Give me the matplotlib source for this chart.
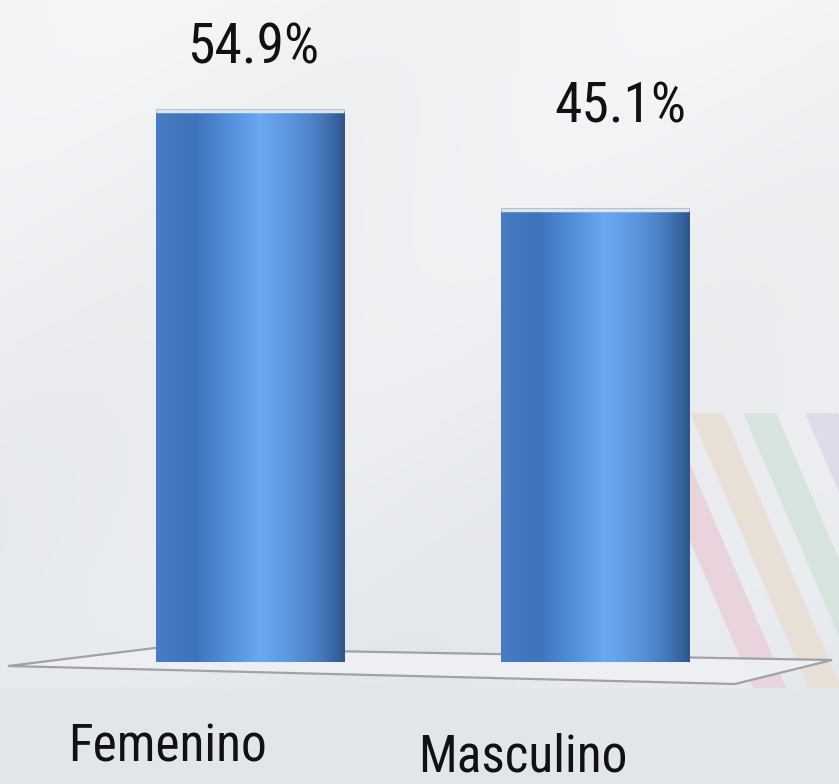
import numpy as np
import matplotlib
matplotlib.use("Agg")
import matplotlib.pyplot as plt
from matplotlib.colors import LinearSegmentedColormap
from matplotlib.patches import Polygon, Rectangle
import logging
logging.getLogger("matplotlib.font_manager").setLevel(logging.ERROR)

# ---- data ----
categories = ["Femenino", "Masculino"]
values = [54.9, 45.1]
value_labels = ["54.9%", "45.1%"]

# ---- layout / style (pixel geometry of the reference) ----
W, H = 839, 784
FONT = ["Liberation Sans Narrow", "Arial Narrow", "Roboto Condensed",
        "Open Sans Condensed", "Liberation Sans", "DejaVu Sans"]

fig = plt.figure(figsize=(W / 100, H / 100), dpi=100)

# background
bg = fig.add_axes([0, 0, 1, 1], zorder=0)
yy, xx = np.mgrid[0:H, 0:W]
top = np.array([0xf3, 0xf4, 0xf6]) / 255
mid = np.array([0xeb, 0xed, 0xf0]) / 255
bot = np.array([0xe3, 0xe7, 0xec]) / 255
t = (yy / H)[..., None]
img = np.where(t < 0.5, top + (mid - top) * (t / 0.5), mid + (bot - mid) * ((t - 0.5) / 0.5))
diag = 0.008 * np.sin((xx + yy * 0.9) / 90.0)[..., None]
img = np.clip(img + diag, 0, 1)
floor_band = (yy > 688)[..., None]
img = np.where(floor_band, np.array([0xe2, 0xe6, 0xeb]) / 255, img)
bg.imshow(img, extent=[0, 1, 0, 1], aspect="auto", interpolation="bilinear")
bg.set_xlim(0, 1)
bg.set_ylim(0, 1)
bg.axis("off")


def px(x, y):
    return (x / W, 1 - y / H)


# decorative diagonal stripes (bottom right)
stripe_cols = ["#e9d3dc", "#e8e0d7", "#d7e4dd", "#e0dbe8"]
stripe_x0 = [635, 690, 743, 805]
y_top, y_bot, slope, sw = 413, 688, 0.43, 33
clip = Rectangle(px(600, y_bot), (W - 600) / W, (y_bot - y_top) / H,
                 transform=bg.transAxes, facecolor="none", edgecolor="none")
bg.add_patch(clip)
for c, x0 in zip(stripe_cols, stripe_x0):
    xb = x0 + slope * (y_bot - y_top)
    poly = Polygon([px(x0, y_top), px(x0 + sw, y_top), px(xb + sw, y_bot), px(xb, y_bot)],
                   closed=True, transform=bg.transAxes, facecolor=c, edgecolor="none", zorder=1)
    poly.set_clip_path(clip)
    bg.add_patch(poly)

# floor plane
floor = Polygon([px(8, 666), px(155, 648), px(832, 660), px(735, 684)], closed=True,
                transform=bg.transAxes, facecolor="#eef0f3", edgecolor="#9c9ea2",
                linewidth=1.6, zorder=2, alpha=0.95)
bg.add_patch(floor)

# main axes
ax = fig.add_axes([0, 0, 1, 1], zorder=1)
ax.patch.set_alpha(0)
base_px, scale = 662, 10.03
x0c, spacing = 250, 345
xlim = (-x0c / spacing, (W - x0c) / spacing)
ylim = (-(H - base_px) / scale, base_px / scale)

cmap = LinearSegmentedColormap.from_list("cyl", [
    (0.00, "#4a7cc0"), (0.08, "#4378c0"), (0.20, "#3f73ba"), (0.35, "#4f8ad4"),
    (0.55, "#6aa8f0"), (0.70, "#5d98df"), (0.85, "#4a7fc4"), (0.95, "#38649f"),
    (1.00, "#2f558a")])
grad = np.linspace(0, 1, 256)[None, :]

xpos = np.arange(len(categories))
width = 0.545
bars = ax.bar(xpos, values, width=width, color="none", edgecolor="none", zorder=2)
for b in bars:
    x0, w, h = b.get_x(), b.get_width(), b.get_height()
    im = ax.imshow(grad, extent=[x0, x0 + w, 0, h], aspect="auto", cmap=cmap,
                   interpolation="bicubic", zorder=2)
    im.set_clip_path(b)
    ax.plot([x0, x0 + w], [h, h], color="#dfe5ec", lw=2.5, zorder=3, solid_capstyle="butt")
    ax.plot([x0, x0 + w], [h + 0.2, h + 0.2], color="#b9c0c8", lw=0.8, zorder=3)

# value labels
lab_dx = [0.01, 0.072]
lab_dy = [4.82, 8.64]
for i, (v, s) in enumerate(zip(values, value_labels)):
    ax.text(xpos[i] + lab_dx[i], v + lab_dy[i], s, ha="center", va="baseline",
            fontsize=40, family=FONT, fontstretch="condensed", color="#111111", zorder=4)

# category labels
cat_dx = [-0.24, -0.21]
cat_y = [-9.97, -10.9]
for i, c in enumerate(categories):
    ax.text(xpos[i] + cat_dx[i], cat_y[i], c, ha="center", va="baseline",
            fontsize=37, family=FONT, fontstretch="condensed", color="#111111", zorder=4)

ax.set_xlim(*xlim)
ax.set_ylim(*ylim)
ax.axis("off")

fig.savefig("out.png", dpi=100)
